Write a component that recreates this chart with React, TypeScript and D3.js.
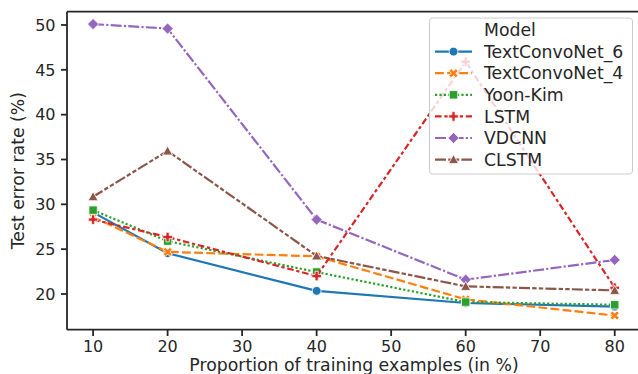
import React from "react";
import * as d3 from "d3";

// training-set proportion (%)
const proportions = [10, 20, 40, 60, 80];

const textConvoNet6 = [29.1, 24.55, 20.35, 19.0, 18.6];
const textConvoNet4 = [28.6, 24.7, 24.2, 19.4, 17.6];
const yoonKim = [29.35, 25.9, 22.45, 19.1, 18.8];
const lstm = [28.3, 26.35, 22.0, 45.9, 20.7];
const vdcnn = [50.1, 49.6, 28.3, 21.6, 23.8];
const clstm = [30.85, 35.95, 24.25, 20.85, 20.4];

const modelNames = ["TextConvoNet_6", "TextConvoNet_4", "Yoon-Kim", "LSTM", "VDCNN", "CLSTM"];
const colors = ["#1f77b4", "#ff7f0e", "#2ca02c", "#d62728", "#9467bd", "#8c564b"];
const markers = ["o", "X", "s", "P", "D", "^"];
// seaborn default dash patterns, in units of line width
const dashUnits: number[][] = [[], [4, 1.5], [1, 1], [3, 1.25, 1.5, 1.25], [5, 1, 1, 1], [5, 1, 2, 1, 2, 1]];

const xTicks = [10, 20, 30, 40, 50, 60, 70, 80];
const yTicks = [20, 25, 30, 35, 40, 45, 50];

const W = 638;
const H = 374;
const LW = 2.2;
const FONT = "'DejaVu Sans', sans-serif";
const INK = "#262626";
const LABEL_SIZE = 17.3;
const TICK_SIZE = 16;

function markerPath(kind: string): string {
    const poly = (pts: number[][]) => "M" + pts.map(p => p.join(",")).join("L") + "Z";
    if (kind === "o") {
        const r = 4.4;
        return `M${-r},0A${r},${r} 0 1,0 ${r},0A${r},${r} 0 1,0 ${-r},0Z`;
    }
    if (kind === "s") {
        const s = 4.2;
        return poly([[-s, -s], [s, -s], [s, s], [-s, s]]);
    }
    if (kind === "D") {
        const s = 5.6;
        return poly([[0, -s], [s, 0], [0, s], [-s, 0]]);
    }
    if (kind === "^") {
        const s = 5;
        return poly([[0, -s], [s, s * 0.8], [-s, s * 0.8]]);
    }
    // filled plus / filled x
    const s = 4.8;
    const w = s / 3;
    let pts = [[-w, -s], [w, -s], [w, -w], [s, -w], [s, w], [w, w], [w, s], [-w, s], [-w, w], [-s, w], [-s, -w], [-w, -w]];
    if (kind === "X") {
        const c = Math.SQRT1_2;
        pts = pts.map(([x, y]) => [(x - y) * c, (x + y) * c]);
    }
    return poly(pts);
}

export default function App() {
    const series = [textConvoNet6, textConvoNet4, yoonKim, lstm, vdcnn, clstm];

    const x = d3.scaleLinear().domain([6.5, 83.5]).range([67, 640.8]);
    const y = d3.scaleLinear().domain([16.02, 51.48]).range([329.7, 11.7]);

    const line = d3.line<number>()
        .x((d, i) => x(proportions[i]))
        .y(d => y(d));

    const dash = (i: number) => dashUnits[i].length ? dashUnits[i].map(v => v * LW).join(",") : undefined;

    const legX = 429.5;
    const legY = 18;
    const rowY = (i: number) => legY + 12 + i * 21.6;

    return (
        <svg width={W} height={H} style={{position: "absolute", left: 0, top: 0}} fontFamily={FONT}>
            <rect width={W} height={H} fill="white"/>

            {/* lines with markers, in hue order */}
            {series.map((vals, i) => (
                <g key={modelNames[i]}>
                    <path d={line(vals) || ""} fill="none" stroke={colors[i]} strokeWidth={LW}
                          strokeDasharray={dash(i)} strokeLinejoin="round"/>
                    {vals.map((v, j) => (
                        <path key={j} d={markerPath(markers[i])}
                              transform={`translate(${x(proportions[j])},${y(v)})`}
                              fill={colors[i]} stroke="white" strokeWidth={0.8}/>
                    ))}
                </g>
            ))}

            {/* spines */}
            <line x1={67} x2={67} y1={11.7} y2={329.7} stroke={INK} strokeWidth={1.8}/>
            <line x1={67} x2={641} y1={329.7} y2={329.7} stroke={INK} strokeWidth={1.8}/>
            <line x1={67} x2={641} y1={11.7} y2={11.7} stroke={INK} strokeWidth={1.8}/>

            {/* x axis */}
            {xTicks.map(t => (
                <g key={t} transform={`translate(${x(t)},0)`}>
                    <line y1={329.7} y2={336} stroke={INK} strokeWidth={1.8}/>
                    <text y={352} textAnchor="middle" fontSize={TICK_SIZE} fill={INK}>{t}</text>
                </g>
            ))}
            <text x={354} y={370.5} textAnchor="middle" fontSize={LABEL_SIZE} fill={INK}>
                Proportion of training examples (in %)
            </text>

            {/* y axis */}
            {yTicks.map(t => (
                <g key={t} transform={`translate(0,${y(t)})`}>
                    <line x1={61} x2={67} stroke={INK} strokeWidth={1.8}/>
                    <text x={55.5} dy="0.36em" textAnchor="end" fontSize={TICK_SIZE} fill={INK}>{t}</text>
                </g>
            ))}
            <text transform={`translate(23.5,${170.7}) rotate(-90)`} textAnchor="middle" fontSize={LABEL_SIZE} fill={INK}>
                Test error rate (%)
            </text>

            {/* legend */}
            <rect x={legX} y={legY} width={203} height={156} rx={3} fill="white" fillOpacity={0.8}
                  stroke="#cccccc" strokeWidth={1}/>
            <text x={484} y={rowY(0)} dy="0.36em" fontSize={LABEL_SIZE} fill={INK}>Model</text>
            {modelNames.map((name, i) => (
                <g key={name} transform={`translate(0,${rowY(i + 1)})`}>
                    <line x1={435} x2={472} stroke={colors[i]} strokeWidth={LW} strokeDasharray={dash(i)}/>
                    <path d={markerPath(markers[i])} transform="translate(453.5,0)" fill={colors[i]}
                          stroke="white" strokeWidth={0.8}/>
                    <text x={484} dy="0.36em" fontSize={LABEL_SIZE} fill={INK}>{name}</text>
                </g>
            ))}
        </svg>
    );
}
